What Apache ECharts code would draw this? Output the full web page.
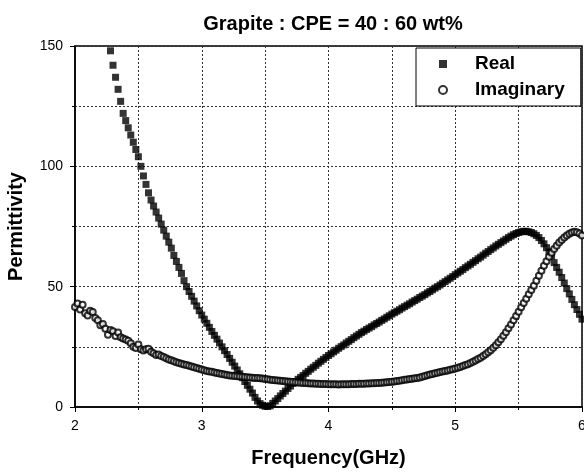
<!DOCTYPE html>
<html>
<head>
<meta charset="utf-8">
<title>Grapite : CPE = 40 : 60 wt%</title>
<script src="https://cdn.jsdelivr.net/npm/echarts@6/dist/echarts.min.js"></script>
<style>
  html, body { margin: 0; padding: 0; background: #fff; }
  #chart { width: 584px; height: 472px; }
</style>
</head>
<body>
<div id="chart"></div>
<script>
// Measured frequency sweep (GHz)
const frequency = [
  2.00, 2.02, 2.04, 2.06, 2.08, 2.10, 2.12, 2.14, 2.16, 2.18,
  2.20, 2.22, 2.24, 2.26, 2.28, 2.30, 2.32, 2.34, 2.36, 2.38,
  2.40, 2.42, 2.44, 2.46, 2.48, 2.50, 2.52, 2.54, 2.56, 2.58,
  2.60, 2.62, 2.64, 2.66, 2.68, 2.70, 2.72, 2.74, 2.76, 2.78,
  2.80, 2.82, 2.84, 2.86, 2.88, 2.90, 2.92, 2.94, 2.96, 2.98,
  3.00, 3.02, 3.04, 3.06, 3.08, 3.10, 3.12, 3.14, 3.16, 3.18,
  3.20, 3.22, 3.24, 3.26, 3.28, 3.30, 3.32, 3.34, 3.36, 3.38,
  3.40, 3.42, 3.44, 3.46, 3.48, 3.50, 3.52, 3.54, 3.56, 3.58,
  3.60, 3.62, 3.64, 3.66, 3.68, 3.70, 3.72, 3.74, 3.76, 3.78,
  3.80, 3.82, 3.84, 3.86, 3.88, 3.90, 3.92, 3.94, 3.96, 3.98,
  4.00, 4.02, 4.04, 4.06, 4.08, 4.10, 4.12, 4.14, 4.16, 4.18,
  4.20, 4.22, 4.24, 4.26, 4.28, 4.30, 4.32, 4.34, 4.36, 4.38,
  4.40, 4.42, 4.44, 4.46, 4.48, 4.50, 4.52, 4.54, 4.56, 4.58,
  4.60, 4.62, 4.64, 4.66, 4.68, 4.70, 4.72, 4.74, 4.76, 4.78,
  4.80, 4.82, 4.84, 4.86, 4.88, 4.90, 4.92, 4.94, 4.96, 4.98,
  5.00, 5.02, 5.04, 5.06, 5.08, 5.10, 5.12, 5.14, 5.16, 5.18,
  5.20, 5.22, 5.24, 5.26, 5.28, 5.30, 5.32, 5.34, 5.36, 5.38,
  5.40, 5.42, 5.44, 5.46, 5.48, 5.50, 5.52, 5.54, 5.56, 5.58,
  5.60, 5.62, 5.64, 5.66, 5.68, 5.70, 5.72, 5.74, 5.76, 5.78,
  5.80, 5.82, 5.84, 5.86, 5.88, 5.90, 5.92, 5.94, 5.96, 5.98,
  6.00
];

// Real part of permittivity (null = above the plotted range)
const realPart = [
  null, null, null, null, null, null, null, null, null, null,
  null, null, null, null, 148, 142, 137, 132, 127, 122,
  119, 116, 113, 110, 107, 104, 100, 96, 92.5, 89,
  86, 83.5, 81, 78.5, 76, 73.5, 71, 68.5, 66, 63,
  60.5, 58, 55.5, 52.5, 50, 48, 46, 44, 42, 40,
  38.2, 36.5, 34.8, 33.1, 31.4, 29.8, 28.2, 26.6, 25.0, 23.4,
  21.8, 20.2, 18.6, 17.0, 15.4, 13.8, 12.2, 10.6, 9.0, 7.4,
  5.8, 4.0, 2.5, 1.4, 0.7, 0.3, 0.2, 0.5, 1.5, 2.5,
  3.5, 4.6, 5.6, 6.6, 7.7, 8.7, 9.8, 10.6, 11.5, 12.3,
  13.1, 14.0, 14.8, 15.7, 16.5, 17.3, 18.2, 19.0, 19.8, 20.6,
  21.4, 22.1, 22.9, 23.6, 24.4, 25.1, 25.8, 26.6, 27.3, 28.0,
  28.8, 29.5, 30.2, 30.9, 31.5, 32.2, 32.8, 33.4, 34.1, 34.7,
  35.3, 36.0, 36.6, 37.3, 37.9, 38.6, 39.2, 39.8, 40.4, 41.1,
  41.7, 42.3, 42.9, 43.6, 44.2, 44.8, 45.5, 46.1, 46.7, 47.4,
  48.0, 48.7, 49.4, 50.0, 50.7, 51.4, 52.1, 52.8, 53.5, 54.2,
  55.0, 55.7, 56.4, 57.1, 57.9, 58.6, 59.3, 60.1, 60.8, 61.6,
  62.3, 63.1, 63.9, 64.6, 65.4, 66.1, 66.9, 67.6, 68.3, 69.0,
  69.7, 70.4, 71.0, 71.6, 72.1, 72.5, 72.8, 73.0, 73.0, 72.8,
  72.5, 72.0, 71.3, 70.4, 69.2, 67.8, 66.2, 64.5, 62.7, 60.0,
  58.0, 56.0, 53.8, 51.5, 49.2, 47.0, 44.7, 42.5, 40.5, 38.5,
  36.5
];

// Imaginary part of permittivity
const imaginaryPart = [
  41.5, 43, 40.5, 42.5, 39, 38, 40, 39.5, 37, 36,
  34, 34.5, 32.5, 30, 32, 31.5, 29.5, 31, 29, 28.5,
  28, 27.5, 26.5, 25, 24.5, 26, 24, 23.5, 24, 24.2,
  23, 22.3, 21.6, 21.8, 21.2, 20.8, 20.3, 19.7, 19.4, 19.0,
  18.6, 18.3, 18.0, 17.7, 17.4, 17.1, 16.8, 16.5, 16.2, 15.9,
  15.6, 15.3, 15.0, 14.8, 14.6, 14.3, 14.1, 13.9, 13.7, 13.5,
  13.3, 13.1, 13.0, 12.9, 12.8, 12.7, 12.6, 12.5, 12.4, 12.3,
  12.2, 12.1, 12.0, 11.9, 11.8, 11.6, 11.5, 11.3, 11.2, 11.1,
  11.0, 10.9, 10.8, 10.7, 10.6, 10.5, 10.4, 10.3, 10.2, 10.1,
  10.0, 10.0, 9.9, 9.8, 9.8, 9.7, 9.7, 9.6, 9.6, 9.6,
  9.5, 9.5, 9.5, 9.5, 9.4, 9.5, 9.5, 9.5, 9.5, 9.6,
  9.6, 9.6, 9.7, 9.7, 9.7, 9.8, 9.8, 9.9, 9.9, 10.0,
  10.0, 10.1, 10.2, 10.3, 10.4, 10.5, 10.6, 10.8, 10.9, 11.1,
  11.3, 11.4, 11.6, 11.7, 11.9, 12.0, 12.3, 12.6, 12.9, 13.2,
  13.5, 13.7, 14.0, 14.2, 14.5, 14.7, 15.0, 15.2, 15.5, 15.7,
  16.0, 16.3, 16.6, 17.0, 17.4, 17.8, 18.3, 18.8, 19.3, 19.9,
  20.5, 21.2, 21.9, 22.7, 23.6, 24.6, 25.7, 26.9, 28.2, 29.6,
  31.1, 32.7, 34.3, 36.0, 37.8, 39.6, 41.4, 43.2, 45.0, 46.8,
  48.6, 50.4, 52.5, 54.5, 56.6, 58.7, 60.6, 62.4, 64.1, 65.6,
  67.0, 68.3, 69.4, 70.4, 71.3, 72.0, 72.5, 72.8, 72.6, 72.1,
  71.3
];

const seriesNames = ['Real', 'Imaginary'];
const xTicks = { min: 2, max: 6, step: 1 };
const yTicks = { min: 0, max: 150, step: 50 };

function pairs(xs, ys) {
  const out = [];
  for (let i = 0; i < xs.length; i++) {
    if (ys[i] !== null && ys[i] !== undefined) out.push([xs[i], ys[i]]);
  }
  return out;
}

const FONT = '"Liberation Sans", Arial, Helvetica, sans-serif';
const gridLine = { show: true, lineStyle: { color: '#333', type: [2, 2], width: 1 } };

const chart = echarts.init(document.getElementById('chart'), null, { renderer: 'canvas' });

chart.setOption({
  animation: false,
  backgroundColor: '#fff',
  title: {
    text: 'Grapite : CPE = 40 : 60 wt%',
    left: 328,
    top: 9,
    textAlign: 'center',
    textStyle: { fontFamily: FONT, fontSize: 20, fontWeight: 'bold', color: '#000' }
  },
  grid: {
    left: 75, right: 2, top: 46, bottom: 65,
    outerBoundsMode: 'none',
    containLabel: false,
    show: true, borderColor: '#000', borderWidth: 1.5, backgroundColor: 'transparent'
  },
  legend: {
    orient: 'vertical',
    left: 416,
    top: 48,
    padding: [5, 16, 5, 22],
    itemGap: 4,
    itemWidth: 8,
    itemHeight: 8,
    borderColor: '#000',
    borderWidth: 1,
    backgroundColor: '#fff',
    data: [
      { name: seriesNames[0], icon: 'rect' },
      { name: seriesNames[1], icon: 'emptyCircle' }
    ],
    textStyle: {
      fontFamily: FONT, fontSize: 19, fontWeight: 'bold', color: '#000',
      lineHeight: 22, padding: [0, 0, 0, 23]
    }
  },
  xAxis: {
    type: 'value',
    min: xTicks.min, max: xTicks.max, interval: xTicks.step,
    name: 'Frequency(GHz)',
    nameLocation: 'middle',
    nameGap: 41,
    nameTextStyle: { fontFamily: FONT, fontSize: 20, fontWeight: 'bold', color: '#000' },
    axisLine: { show: true, lineStyle: { color: '#000', width: 1.5 } },
    axisTick: { show: true, length: 5, lineStyle: { color: '#000' } },
    minorTick: { show: true, splitNumber: 2, length: 3, lineStyle: { color: '#000' } },
    splitLine: gridLine,
    minorSplitLine: gridLine,
    axisLabel: { fontFamily: FONT, fontSize: 14, color: '#000', margin: 12 }
  },
  yAxis: {
    type: 'value',
    min: yTicks.min, max: yTicks.max, interval: yTicks.step,
    name: 'Permittivity',
    nameLocation: 'middle',
    nameGap: 49,
    nameTextStyle: { fontFamily: FONT, fontSize: 20, fontWeight: 'bold', color: '#000' },
    axisLine: { show: true, lineStyle: { color: '#000', width: 1.5 } },
    axisTick: { show: true, length: 5, lineStyle: { color: '#000' } },
    minorTick: { show: true, splitNumber: 2, length: 3, lineStyle: { color: '#000' } },
    splitLine: gridLine,
    minorSplitLine: gridLine,
    axisLabel: { fontFamily: FONT, fontSize: 14, color: '#000', margin: 12 }
  },
  series: [
    {
      name: seriesNames[0],
      type: 'scatter',
      symbol: 'rect',
      symbolSize: 7,
      itemStyle: { color: '#000' },
      data: pairs(frequency, realPart)
    },
    {
      name: seriesNames[1],
      type: 'scatter',
      symbol: 'emptyCircle',
      symbolSize: 6,
      itemStyle: { color: '#000', borderColor: '#000', borderWidth: 0.9 },
      data: pairs(frequency, imaginaryPart)
    }
  ]
});
</script>
</body>
</html>
